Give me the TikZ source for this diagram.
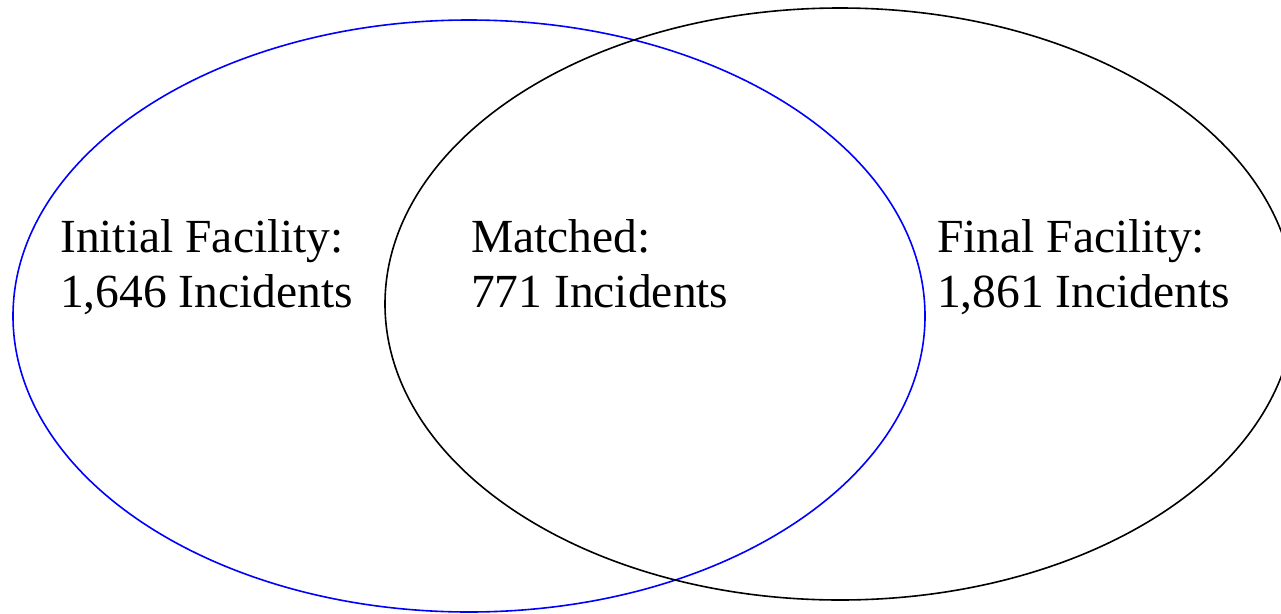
\documentclass[tikz,border=0pt]{standalone}
\usepackage{fontspec}
\setmainfont{Liberation Serif}
\begin{document}
\begin{tikzpicture}[x=1pt,y=-1pt,
  lbl/.style={anchor=base west,inner sep=0pt,align=left,font=\fontsize{47.5}{55}\selectfont}]
\useasboundingbox (0,0) rectangle (1281,613);
\clip (0,0) rectangle (1281,613);
\fill[white] (0,0) rectangle (1281,613);
\draw[blue,line width=1.6pt] (469,316) ellipse [x radius=456,y radius=296];
\draw[black,line width=1.6pt] (840,304) ellipse [x radius=455,y radius=296];
\node[lbl] (init) at (60,307) {Initial Facility:\\1,646 Incidents};
\node[lbl] (match) at (471,307) {Matched:\\771 Incidents};
\node[lbl] (final) at (937,307) {Final Facility:\\1,861 Incidents};
\end{tikzpicture}
\end{document}
